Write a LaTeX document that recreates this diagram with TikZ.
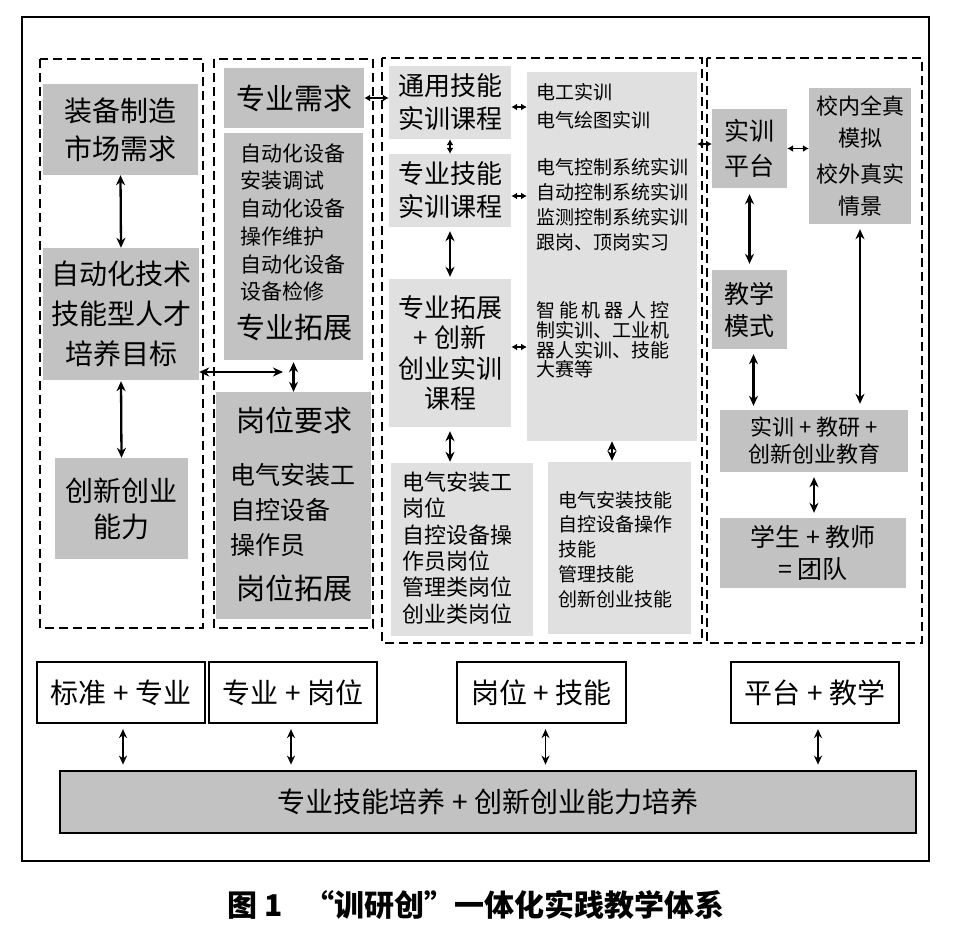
\documentclass[tikz,border=0pt]{standalone}
\usepackage{fontspec}
\setmainfont{Noto Sans CJK SC}
\usetikzlibrary{arrows.meta}
\definecolor{dkgray}{gray}{0.76}
\definecolor{ltgray}{gray}{0.88}
\newcommand{\myfs}[2]{\fontsize{#1pt}{#2pt}\selectfont}
\begin{document}
\begin{tikzpicture}[x=1pt,y=-1pt,
  dk/.style={fill=dkgray, inner sep=0pt, align=center},
  lt/.style={fill=ltgray, inner sep=0pt, align=center},
  wh/.style={draw, line width=2.2pt, fill=white, inner sep=0pt, align=center},
  txt/.style={inner sep=0pt, align=left, anchor=west},
  lbl/.style={inner sep=0pt, align=center},
  panel/.style={draw, line width=2.5pt, dash pattern=on 9pt off 5pt},
  arr/.style={{Stealth[length=10pt,width=9pt]}-{Stealth[length=10pt,width=9pt]}, line width=2.3pt},
  barr/.style={{Stealth[length=9pt,width=8pt]}-{Stealth[length=9pt,width=8pt]}, line width=1.8pt},
  tiny/.style={{Latex[length=6pt,width=7pt]}-{Latex[length=6pt,width=7pt]}, line width=1.6pt},
]
\useasboundingbox (0,0) rectangle (973,929);
\fill[white] (0,0) rectangle (973,929);
\draw[line width=2.6pt] (22,17) rectangle (929,861);
% panels
\draw[panel] (40,59) rectangle (203,628);
\draw[panel] (214,59) rectangle (373,628);
\draw[panel] (382,58) rectangle (702,643);
\draw[panel] (707,58) rectangle (922,643);

% panel 1
\node[dk, minimum width=155pt, minimum height=91pt, font=\myfs{28}{38}] (A1) at (120.5,129.5) {装备制造\\市场需求};
\node[dk, minimum width=156pt, minimum height=132pt, font=\myfs{28}{40}] (A2) at (121,314) {自动化技术\\技能型人才\\培养目标};
\node[dk, minimum width=133pt, minimum height=101pt, font=\myfs{28}{36}] (A3) at (121.5,508.5) {创新创业\\能力};

% panel 2
\node[dk, minimum width=140pt, minimum height=60pt, font=\myfs{29}{35}] (B1) at (294,98) {专业需求};
\node[dk, minimum width=139pt, minimum height=227pt] (B2) at (293.5,246.5) {};
\node[txt, font=\myfs{21}{27.7}] (B2t) at (240,222.5) {自动化设备\\安装调试\\自动化设备\\操作维护\\自动化设备\\设备检修};
\node[lbl, font=\myfs{29}{35}] (B2u) at (294,327) {专业拓展};
\node[dk, minimum width=155pt, minimum height=227pt] (B3) at (293.5,505.5) {};
\node[lbl, font=\myfs{29}{35}] (B3a) at (294,420) {岗位要求};
\node[txt, font=\myfs{25}{35}] (B3b) at (230,510) {电气安装工\\自控设备\\操作员};
\node[lbl, font=\myfs{29}{35}] (B3c) at (294,588) {岗位拓展};

% panel 3
\node[lt, minimum width=122pt, minimum height=73pt, font=\myfs{26}{33}] (C1) at (450,102.5) {通用技能\\实训课程};
\node[lt, minimum width=122pt, minimum height=73pt, font=\myfs{26}{33}] (C2) at (450,190.5) {专业技能\\实训课程};
\node[lt, minimum width=122pt, minimum height=148pt, font=\myfs{26}{30.5}] (C3) at (450,353) {专业拓展\\+ 创新\\创业实训\\课程};
\node[lt, minimum width=142pt, minimum height=173pt] (C4) at (462,549.5) {};
\node[txt, font=\myfs{22}{26.4}] (C4t) at (402,548) {电气安装工\\岗位\\自控设备操\\作员岗位\\管理类岗位\\创业类岗位};
\node[lt, minimum width=170pt, minimum height=369pt] (D1) at (612,256.5) {};
\node[txt, font=\myfs{19}{28}] (D1a) at (536,106) {电工实训\\电气绘图实训};
\node[txt, font=\myfs{19}{25}] (D1b) at (536,204.5) {电气控制系统实训\\自动控制系统实训\\监测控制系统实训\\跟岗、顶岗实习};
\node[txt, font=\myfs{19}{19.7}] (D1c) at (536,340) {\makebox[133pt][s]{智\hfill 能\hfill 机\hfill 器\hfill 人\hfill 控}\\制实训、工业机\\器人实训、技能\\大赛等};
\node[lt, minimum width=143pt, minimum height=172pt] (D2) at (619.5,548) {};
\node[txt, font=\myfs{19}{24.75}] (D2t) at (558,549.5) {电气安装技能\\自控设备操作\\技能\\管理技能\\创新创业技能};

% panel 4
\node[dk, minimum width=75pt, minimum height=79pt, font=\myfs{25}{35}] (E1) at (749.5,148.5) {实训\\平台};
\node[dk, minimum width=102pt, minimum height=136pt, font=\myfs{22}{32}] (E2) at (860,156) {校内全真\\模拟\\[4pt]校外真实\\情景};
\node[dk, minimum width=75pt, minimum height=79pt, font=\myfs{25}{32}] (E3) at (749.5,309.5) {教学\\模式};
\node[dk, minimum width=188pt, minimum height=62pt, font=\myfs{22}{27}] (E4) at (814,441) {实训 + 教研 +\\创新创业教育};
\node[dk, minimum width=186pt, minimum height=70pt, font=\myfs{25}{32}] (E5) at (813,553) {学生 + 教师\\= 团队};

% bottom row
\node[wh, minimum width=168pt, minimum height=61pt, font=\myfs{28}{34}] (F1) at (121,692.5) {标准 + 专业};
\node[wh, minimum width=168pt, minimum height=61pt, font=\myfs{28}{34}] (F2) at (293,692.5) {专业 + 岗位};
\node[wh, minimum width=169pt, minimum height=61pt, font=\myfs{28}{34}] (F3) at (541.5,692.5) {岗位 + 技能};
\node[wh, minimum width=168pt, minimum height=61pt, font=\myfs{28}{34}] (F4) at (815,692.5) {平台 + 教学};
\node[draw, line width=2.8pt, fill=dkgray, inner sep=0pt, minimum width=856pt, minimum height=62pt, font=\myfs{28}{34}] (G) at (488,802) {专业技能培养 + 创新创业能力培养};

% caption
\node[lbl, font=\myfs{30}{34}\bfseries] (cap) at (476,905) {图 1\hspace{22pt}“训研创”一体化实践教学体系};

% arrows panel 1/2
\draw[arr] (A1.south) -- (A2.north);
\draw[arr, shorten <=1pt] (A2.south) -- (A3.north);
\coordinate (h1) at (283,372);
\draw[arr] (h1 -| A2.east) -- (h1);
\draw[arr, shorten <=2pt] (B2.south) -- (B3.north);
\draw[tiny] (B1.east) -- (B1.east -| C1.west);

% arrows panel 3
\draw[tiny] (C1.south) -- (C2.north);
\draw[arr, shorten <=4pt, shorten >=2pt] (C2.south) -- (C3.north);
\draw[arr, shorten <=4pt, shorten >=1pt] (C3.south) -- (C3.south |- C4.north);
\coordinate (k1) at (527,107);
\coordinate (k2) at (527,196);
\coordinate (k3) at (527,347);
\draw[tiny] (k1 -| C1.east) -- (k1);
\draw[tiny] (k2 -| C2.east) -- (k2);
\draw[tiny] (k3 -| C3.east) -- (k3);
\draw[arr, shorten >=1pt] (D1.south) -- (D1.south |- D2.north);
\coordinate (k4) at (712,144);
\draw[tiny] (k4 -| D1.east) -- (k4);

% arrows panel 4
\draw[tiny] (E1.east) -- (E1.east -| E2.west);
\draw[arr, shorten <=6pt, shorten >=6pt] (E1.south) -- (E3.north);
\draw[arr, shorten <=5pt, shorten >=4pt] ([xshift=4pt]E3.south) -- ([xshift=4pt]E3.south |- E4.north);
\draw[arr, shorten <=5pt, shorten >=6pt] (E2.south) -- (E2.south |- E4.north);
\draw[arr, shorten <=5pt, shorten >=5pt] (E4.south) -- (E4.south |- E5.north);

% bottom arrows
\draw[barr, shorten <=5pt, shorten >=5pt] ([xshift=2pt]F1.south) -- ([xshift=2pt]F1.south |- G.north);
\draw[barr, shorten <=5pt, shorten >=5pt] ([xshift=-2pt]F2.south) -- ([xshift=-2pt]F2.south |- G.north);
\draw[barr, shorten <=5pt, shorten >=5pt] ([xshift=4pt]F3.south) -- ([xshift=4pt]F3.south |- G.north);
\draw[barr, shorten <=5pt, shorten >=5pt] ([xshift=3pt]F4.south) -- ([xshift=3pt]F4.south |- G.north);
\end{tikzpicture}
\end{document}
